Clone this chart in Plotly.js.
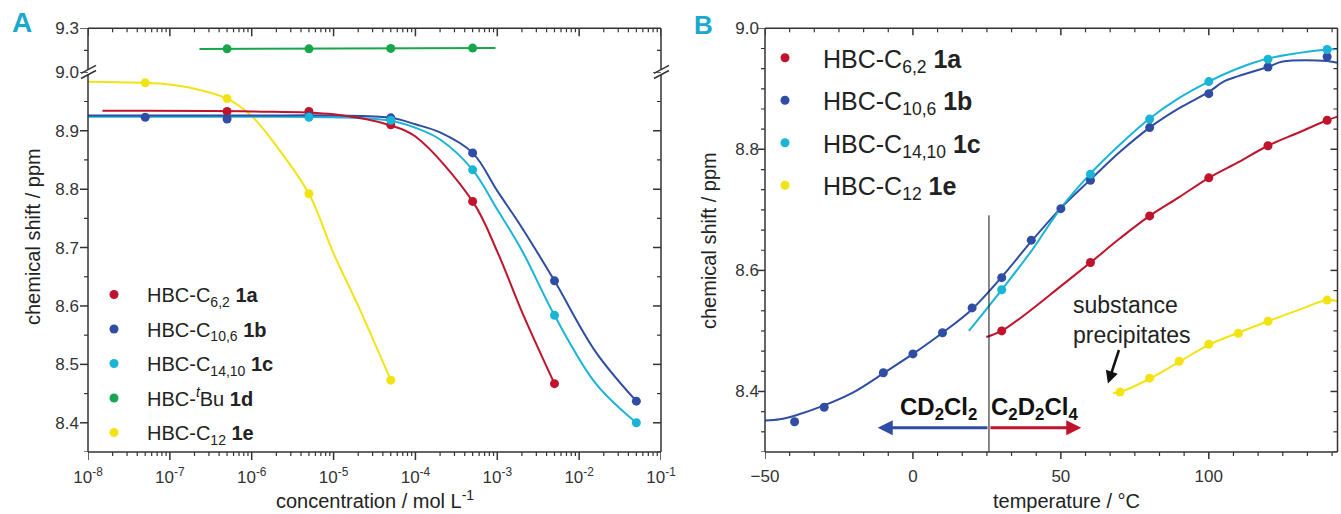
<!DOCTYPE html>
<html><head><meta charset="utf-8">
<script src="https://cdn.plot.ly/plotly-3.0.1.min.js"></script>
<style>html,body{margin:0;padding:0;background:#fff}#chart{width:1341px;height:514px}</style>
</head><body><div id="chart"></div>
<script>
// ---------- Panel A: concentration dependence (log x) ----------
const A_conc_1a = [5e-7, 5e-6, 5e-5, 5e-4, 5e-3];
const A_shift_1a = [8.933, 8.933, 8.910, 8.779, 8.467];
const A_conc_1b = [5e-8, 5e-7, 5e-6, 5e-5, 5e-4, 5e-3, 5e-2];
const A_shift_1b = [8.923, 8.920, 8.925, 8.922, 8.862, 8.643, 8.437];
const A_conc_1c = [5e-6, 5e-5, 5e-4, 5e-3, 5e-2];
const A_shift_1c = [8.923, 8.918, 8.833, 8.584, 8.400];
const A_conc_1d = [5e-7, 5e-6, 5e-5, 5e-4];
const A_shift_1d = [9.160, 9.160, 9.163, 9.165];
const A_conc_1e = [5e-8, 5e-7, 5e-6, 5e-5];
const A_shift_1e = [8.982, 8.955, 8.792, 8.473];

// fitted curves
const A_fit_conc_1a = [1.5e-8, 1e-6, 1e-5, 5e-5, 1e-4, 5e-4, 1e-3, 2e-3, 5e-3];
const A_fit_shift_1a = [8.934, 8.933, 8.928, 8.909, 8.890, 8.779, 8.693, 8.590, 8.467];
const A_fit_conc_1b = [1e-8, 1e-6, 1e-5, 5e-5, 1e-4, 2e-4, 5e-4, 1e-3, 2e-3, 5e-3, 1.6e-2, 5e-2];
const A_fit_shift_1b = [8.926, 8.926, 8.926, 8.922, 8.911, 8.897, 8.862, 8.797, 8.734, 8.643, 8.521, 8.437];
const A_fit_conc_1c = [1e-8, 1e-6, 1e-5, 5e-5, 1e-4, 2e-4, 5e-4, 1e-3, 2e-3, 5e-3, 1.6e-2, 5e-2];
const A_fit_shift_1c = [8.924, 8.924, 8.923, 8.917, 8.905, 8.885, 8.833, 8.765, 8.695, 8.584, 8.467, 8.400];
const A_fit_conc_1d = [2.3e-7, 9.5e-4];
const A_fit_shift_1d = [9.159, 9.166];
const A_fit_conc_1e = [1e-8, 5e-8, 1e-7, 2e-7, 5e-7, 1e-6, 2e-6, 5e-6, 1e-5, 2e-5, 5e-5];
const A_fit_shift_1e = [8.984, 8.982, 8.979, 8.972, 8.955, 8.925, 8.874, 8.792, 8.690, 8.600, 8.473];

const A_tick_vals = [1e-8, 1e-7, 1e-6, 1e-5, 1e-4, 1e-3, 1e-2, 1e-1];
const A_tick_text = ['10<sup>-8</sup>', '10<sup>-7</sup>', '10<sup>-6</sup>', '10<sup>-5</sup>', '10<sup>-4</sup>', '10<sup>-3</sup>', '10<sup>-2</sup>', '10<sup>-1</sup>'];
const A_y_major = [8.4, 8.5, 8.6, 8.7, 8.8, 8.9, 9.0];
const A_y_minor = [8.35, 8.45, 8.55, 8.65, 8.75, 8.85, 8.95];
const A_y3_major = [9.3];
const A_y3_minor = [9.15];

// ---------- Panel B: temperature dependence ----------
const B_temp_1a = [30, 60, 80, 100, 120, 140];
const B_shift_1a = [8.500, 8.613, 8.690, 8.753, 8.806, 8.848];
const B_temp_1b = [-40, -30, -10, 0, 10, 20, 30, 40, 50, 60, 80, 100, 120, 140];
const B_shift_1b = [8.350, 8.374, 8.431, 8.462, 8.497, 8.538, 8.588, 8.650, 8.702, 8.749, 8.836, 8.892, 8.936, 8.953];
const B_temp_1c = [30, 60, 80, 100, 120, 140];
const B_shift_1c = [8.568, 8.759, 8.850, 8.912, 8.949, 8.965];
const B_temp_1e = [70, 80, 90, 100, 110, 120, 140];
const B_shift_1e = [8.399, 8.422, 8.450, 8.478, 8.496, 8.516, 8.551];

const B_fit_temp_1a = [24.8, 30, 40, 50, 60, 70, 80, 90, 100, 110, 120, 130, 140, 143.5];
const B_fit_shift_1a = [8.490, 8.500, 8.535, 8.574, 8.613, 8.653, 8.690, 8.721, 8.753, 8.779, 8.806, 8.827, 8.848, 8.854];
const B_fit_temp_1b = [-50, -45, -40, -30, -20, -10, 0, 10, 20, 30, 40, 50, 60, 70, 80, 90, 100, 105, 110, 120, 125, 140, 143.5];
const B_fit_shift_1b = [8.352, 8.354, 8.360, 8.377, 8.399, 8.430, 8.462, 8.497, 8.536, 8.589, 8.648, 8.703, 8.750, 8.796, 8.836, 8.868, 8.895, 8.912, 8.921, 8.936, 8.945, 8.946, 8.943];
const B_fit_temp_1c = [18.9, 30, 40, 50, 60, 70, 80, 90, 100, 110, 120, 130, 140, 143.5];
const B_fit_shift_1c = [8.500, 8.568, 8.632, 8.703, 8.760, 8.808, 8.851, 8.885, 8.912, 8.934, 8.950, 8.959, 8.965, 8.966];
const B_fit_temp_1e = [67.6, 70, 80, 90, 100, 110, 120, 130, 140, 143.5];
const B_fit_shift_1e = [8.397, 8.399, 8.421, 8.449, 8.477, 8.497, 8.516, 8.534, 8.551, 8.549];

const B_x_major = [-50, 0, 50, 100];
const B_y_major = [8.4, 8.6, 8.8, 9.0];
const solventBoundary = 25.7;   // °C, CD2Cl2 | C2D2Cl4

const names = {
  a: 'HBC-C<sub>6,2</sub> <b>1a</b>',
  b: 'HBC-C<sub>10,6</sub> <b>1b</b>',
  c: 'HBC-C<sub>14,10</sub> <b>1c</b>',
  d: 'HBC-<sup><i>t</i></sup>Bu <b>1d</b>',
  e: 'HBC-C<sub>12</sub> <b>1e</b>'
};

// ---------- styling ----------
const FONT = '"Liberation Sans", Arial, sans-serif';
const COL = {a: '#c0132c', b: '#2f4ea3', c: '#1ab4d6', d: '#17a64b', e: '#f2e413'};
const CYAN_LABEL = '#19a9cc';
const AXC = '#333';
const W = 1341, H = 514;
const PX = v => v / W, PY = v => 1 - v / H;

function fit(x, y, col, xa, ya) {
  return {x, y, xaxis: xa, yaxis: ya, mode: 'lines', type: 'scatter', showlegend: false, hoverinfo: 'skip',
    line: {color: col, width: 2, shape: 'spline', smoothing: 1}};
}
function pts(x, y, col, name, xa, ya, leg, grp) {
  return {x, y, xaxis: xa, yaxis: ya, mode: 'markers', type: 'scatter', name, legend: leg, legendgroup: grp,
    marker: {color: col, size: 9}};
}

const traces = [
  fit(A_fit_conc_1e, A_fit_shift_1e, COL.e, 'x', 'y'),
  fit(A_fit_conc_1c, A_fit_shift_1c, COL.c, 'x', 'y'),
  fit(A_fit_conc_1b, A_fit_shift_1b, COL.b, 'x', 'y'),
  fit(A_fit_conc_1a, A_fit_shift_1a, COL.a, 'x', 'y'),
  fit(A_fit_conc_1d, A_fit_shift_1d, COL.d, 'x', 'y3'),
  pts(A_conc_1a, A_shift_1a, COL.a, names.a, 'x', 'y', 'legend', 'Aa'),
  pts(A_conc_1b, A_shift_1b, COL.b, names.b, 'x', 'y', 'legend', 'Ab'),
  pts(A_conc_1c, A_shift_1c, COL.c, names.c, 'x', 'y', 'legend', 'Ac'),
  pts(A_conc_1d, A_shift_1d, COL.d, names.d, 'x', 'y3', 'legend', 'Ad'),
  pts(A_conc_1e, A_shift_1e, COL.e, names.e, 'x', 'y', 'legend', 'Ae'),

  fit(B_fit_temp_1e, B_fit_shift_1e, COL.e, 'x2', 'y2'),
  fit(B_fit_temp_1a, B_fit_shift_1a, COL.a, 'x2', 'y2'),
  fit(B_fit_temp_1b, B_fit_shift_1b, COL.b, 'x2', 'y2'),
  fit(B_fit_temp_1c, B_fit_shift_1c, COL.c, 'x2', 'y2'),
  pts(B_temp_1a, B_shift_1a, COL.a, names.a, 'x2', 'y2', 'legend2', 'Ba'),
  pts(B_temp_1b, B_shift_1b, COL.b, names.b, 'x2', 'y2', 'legend2', 'Bb'),
  pts(B_temp_1c, B_shift_1c, COL.c, names.c, 'x2', 'y2', 'legend2', 'Bc'),
  pts(B_temp_1e, B_shift_1e, COL.e, names.e, 'x2', 'y2', 'legend2', 'Be')
];

// ---------- geometry (pixels of the 1341x514 figure) ----------
const AxL = 88, AxR = 661, AyB = 452, AyBreak = 72.3, AyT = 28.3;
const BxL = 765, BxR = 1337.5, ByB = 452, ByT = 28.3;
const domAx = [PX(AxL), PX(AxR)], domAyLow = [PY(AyB), PY(AyBreak)], domAyUp = [PY(AyBreak), PY(AyT)];
const domBx = [PX(BxL), PX(BxR)], domBy = [PY(ByB), PY(ByT)];

// minor tick positions
const A_x_minor = [];
for (let k = -8; k < -1; k++) for (let m = 2; m <= 9; m++) A_x_minor.push(m * Math.pow(10, k));
const B_x_minor = [];
for (let i = 1; i <= 23; i++) if (i % 6 !== 0) B_x_minor.push(-50 + i * 50 / 6);
const B_y_minor = [];
for (let i = 0; i <= 21; i++) if (i % 6 !== 3) B_y_minor.push(8.3 + i * 0.2 / 6);

// tick marks & frame drawn as shapes
const MAJ = 8, MIN = 4;
function xTicks(vals, xa, anchor, len, w) {
  return vals.map(v => ({type: 'line', xref: xa, yref: 'paper', ysizemode: 'pixel', yanchor: anchor,
    x0: v, x1: v, y0: 0, y1: -len, line: {color: AXC, width: w}}));
}
function yTicks(vals, ya, anchor, len, w) {
  return vals.map(v => ({type: 'line', yref: ya, xref: 'paper', xsizemode: 'pixel', xanchor: anchor,
    y0: v, y1: v, x0: 0, x1: -len, line: {color: AXC, width: w}}));
}
function seg(x0, y0, x1, y1, w) {
  return {type: 'line', xref: 'paper', yref: 'paper', x0: PX(x0), y0: PY(y0), x1: PX(x1), y1: PY(y1),
    line: {color: AXC, width: w || 1.5}};
}
const frameShapes = [
  seg(AxL, AyB, AxR, AyB), seg(AxL, AyT, AxR, AyT),
  seg(AxL, AyB, AxL, 74.8), seg(AxL, 69.6, AxL, AyT),
  seg(AxR, AyB, AxR, 74.8), seg(AxR, 69.6, AxR, AyT),
  seg(81, 78.5, 96, 70.5), seg(81, 73.3, 96, 65.3),
  seg(654, 78.5, 669, 70.5), seg(654, 73.3, 669, 65.3),
  seg(BxL, ByB, BxR, ByB), seg(BxL, ByT, BxR, ByT), seg(BxL, ByB, BxL, ByT), seg(BxR, ByB, BxR, ByT)
];
const tickShapes = [].concat(
  xTicks(A_tick_vals, 'x', domAyLow[0], MAJ, 1.5), xTicks(A_x_minor, 'x', domAyLow[0], MIN, 1.2),
  xTicks(A_tick_vals, 'x', domAyUp[1], MAJ, 1.5), xTicks(A_x_minor, 'x', domAyUp[1], MIN, 1.2),
  yTicks(A_y_major, 'y', domAx[0], MAJ, 1.5), yTicks(A_y_minor, 'y', domAx[0], MIN, 1.2),
  yTicks(A_y_major, 'y', domAx[1], MAJ, 1.5), yTicks(A_y_minor, 'y', domAx[1], MIN, 1.2),
  yTicks(A_y3_major, 'y3', domAx[0], MAJ, 1.5), yTicks(A_y3_minor, 'y3', domAx[0], MIN, 1.2),
  yTicks(A_y3_minor, 'y3', domAx[1], MIN, 1.2),
  xTicks(B_x_major, 'x2', domBy[0], 7, 1.5), xTicks(B_x_minor, 'x2', domBy[0], MIN, 1.2),
  xTicks(B_x_major, 'x2', domBy[1], 7, 1.5), xTicks(B_x_minor, 'x2', domBy[1], MIN, 1.2),
  yTicks(B_y_major, 'y2', domBx[0], 7, 1.5), yTicks(B_y_minor, 'y2', domBx[0], MIN, 1.2),
  yTicks(B_y_major, 'y2', domBx[1], 7, 1.5), yTicks(B_y_minor, 'y2', domBx[1], MIN, 1.2)
);

// axes: labels only (marks drawn above)
const base = {showline: false, ticks: '', showgrid: false, zeroline: false, automargin: false, fixedrange: true,
  tickfont: {family: FONT, size: 17, color: '#333'}};
const tfont = {family: FONT, size: 20, color: '#222'};

const layout = {
  width: W, height: H, margin: {l: 0, r: 0, t: 0, b: 0, pad: 0},
  paper_bgcolor: '#fff', plot_bgcolor: 'rgba(0,0,0,0)',
  font: {family: FONT, color: '#222'},
  xaxis: Object.assign({}, base, {type: 'log', range: [-8, -1], domain: domAx, anchor: 'y',
    tickmode: 'array', tickvals: A_tick_vals, ticktext: A_tick_text, ticklabelstandoff: 13}),
  yaxis: Object.assign({}, base, {domain: domAyLow, range: [8.35, 9.0], anchor: 'x', tickmode: 'array',
    tickvals: A_y_major, tickformat: '.1f', ticklabelstandoff: 8}),
  yaxis3: Object.assign({}, base, {domain: domAyUp, range: [9.0, 9.3], anchor: 'x', tickmode: 'array',
    tickvals: A_y3_major, ticktext: ['9.3'], ticklabelstandoff: 8}),
  xaxis2: Object.assign({}, base, {domain: domBx, range: [-50, 143.5], anchor: 'y2', tickmode: 'array',
    tickvals: B_x_major, ticklabelstandoff: 12}),
  yaxis2: Object.assign({}, base, {domain: domBy, range: [8.3, 9.0], anchor: 'x2', tickmode: 'array',
    tickvals: B_y_major, tickformat: '.1f', ticklabelstandoff: 5}),

  legend: {x: PX(81), y: PY(275), xanchor: 'left', yanchor: 'top', bgcolor: 'rgba(0,0,0,0)',
    font: {family: FONT, size: 20, color: '#222'}, itemwidth: 56, tracegroupgap: 5.5, traceorder: 'grouped'},
  legend2: {x: PX(747), y: PY(35), xanchor: 'left', yanchor: 'top', bgcolor: 'rgba(0,0,0,0)',
    font: {family: FONT, size: 25, color: '#222'}, itemwidth: 66, tracegroupgap: 7, traceorder: 'grouped'},

  shapes: [
    {type: 'line', xref: 'x2', yref: 'y2', x0: solventBoundary, x1: solventBoundary, y0: 8.3, y1: 8.691,
      line: {color: '#111', width: 1}}
  ].concat(frameShapes, tickShapes),

  annotations: [
    {text: '<b>A</b>', xref: 'paper', yref: 'paper', x: PX(21.5), y: PY(23), xanchor: 'center', yanchor: 'middle',
      showarrow: false, font: {family: FONT, size: 28, color: CYAN_LABEL}},
    {text: '<b>B</b>', xref: 'paper', yref: 'paper', x: PX(703), y: PY(25), xanchor: 'center', yanchor: 'middle',
      showarrow: false, font: {family: FONT, size: 26, color: CYAN_LABEL}},
    {text: 'chemical shift / ppm', xref: 'paper', yref: 'paper', x: PX(33), y: PY(237), textangle: -90,
      xanchor: 'center', yanchor: 'middle', showarrow: false, font: tfont},
    {text: 'chemical shift / ppm', xref: 'paper', yref: 'paper', x: PX(709), y: PY(240), textangle: -90,
      xanchor: 'center', yanchor: 'middle', showarrow: false, font: tfont},
    {text: 'concentration / mol L<sup>-1</sup>', xref: 'paper', yref: 'paper', x: PX(375), y: PY(499),
      xanchor: 'center', yanchor: 'middle', showarrow: false, font: tfont},
    {text: 'temperature / °C', xref: 'paper', yref: 'paper', x: PX(1066), y: PY(501),
      xanchor: 'center', yanchor: 'middle', showarrow: false, font: tfont},
    {text: '<b>CD<sub>2</sub>Cl<sub>2</sub></b>', xref: 'paper', yref: 'paper', x: PX(979), y: PY(408),
      xanchor: 'right', yanchor: 'middle', showarrow: false, font: {family: FONT, size: 24, color: '#111'}},
    {text: '<b>C<sub>2</sub>D<sub>2</sub>Cl<sub>4</sub></b>', xref: 'paper', yref: 'paper', x: PX(989), y: PY(408),
      xanchor: 'left', yanchor: 'middle', showarrow: false, font: {family: FONT, size: 24, color: '#111'}},
    {text: '', xref: 'x2', yref: 'y2', axref: 'x2', ayref: 'y2', x: -11.9, y: 8.34, ax: solventBoundary, ay: 8.34,
      showarrow: true, arrowhead: 2, arrowsize: 1, arrowwidth: 3, arrowcolor: COL.b},
    {text: '', xref: 'x2', yref: 'y2', axref: 'x2', ayref: 'y2', x: 56.9, y: 8.34, ax: solventBoundary, ay: 8.34,
      showarrow: true, arrowhead: 2, arrowsize: 1, arrowwidth: 3, arrowcolor: COL.a},
    {text: 'substance<br>precipitates', xref: 'paper', yref: 'paper', x: PX(1071), y: PY(290), xanchor: 'left',
      yanchor: 'top', align: 'left', showarrow: false, font: {family: FONT, size: 23, color: '#222'}},
    {text: '', xref: 'x2', yref: 'y2', axref: 'x2', ayref: 'y2', x: 65.9, y: 8.413, ax: 69.8, ay: 8.471,
      showarrow: true, arrowhead: 2, arrowsize: 1, arrowwidth: 2.5, arrowcolor: '#111'}
  ]
};

Plotly.newPlot('chart', traces, layout, {displayModeBar: false, staticPlot: true});
</script></body></html>
